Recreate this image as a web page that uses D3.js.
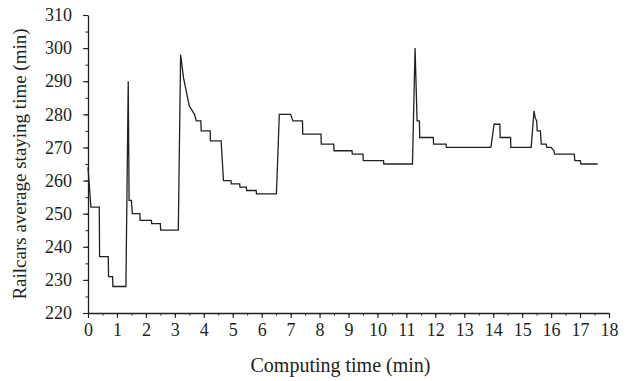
<!DOCTYPE html>
<html>
<head>
<meta charset="utf-8">
<script src="https://cdn.jsdelivr.net/npm/d3@7"></script>
<style>
  html, body { margin: 0; padding: 0; background: #fff; }
  svg { display: block; }
  .tick text { font-family: "Liberation Serif", "Times New Roman", serif; }
</style>
</head>
<body>
<svg id="chart" width="629" height="381"></svg>
<script>
// Computing time (min) of each vertex of the curve
const timeMin = [
  0, 0.05, 0.1, 0.39, 0.4, 0.7, 0.71, 0.85, 0.86, 1.31, 1.39, 1.42,
  1.5, 1.53, 1.79, 1.8, 2.19, 2.2, 2.5, 2.51, 3.12, 3.2,
  3.3, 3.5, 3.68, 3.74, 3.9, 3.91, 4.22, 4.23, 4.6, 4.68,
  4.94, 4.95, 5.24, 5.25, 5.47, 5.48, 5.81, 5.82, 6.51, 6.61,
  7.0, 7.08, 7.41, 7.42, 8.05, 8.06, 8.49, 8.5, 9.12, 9.13,
  9.5, 9.51, 10.21, 10.22, 11.21, 11.3, 11.37, 11.45, 11.46,
  11.93, 11.94, 12.37, 12.38, 13.92, 14.03, 14.23, 14.24, 14.6, 14.61,
  15.31, 15.41, 15.45, 15.5, 15.52, 15.63, 15.66, 15.83, 15.85, 16.0, 16.1, 16.12,
  16.8, 16.82, 17.01, 17.03, 17.61
];
// Railcars average staying time (min) at each vertex
const stayTime = [
  264, 258, 252, 252, 237, 237, 231, 231, 228, 228, 290, 254,
  254, 250, 250, 248, 248, 247, 247, 245, 245, 298,
  291, 282.5, 280, 278, 278, 275, 275, 272, 272, 260,
  260, 259, 259, 258, 258, 257, 257, 256, 256, 280,
  280, 278, 278, 274, 274, 271, 271, 269, 269, 268,
  268, 266, 266, 265, 265, 300, 278, 278, 273,
  273, 271, 271, 270, 270, 277, 277, 273, 273, 270,
  270, 281, 279, 278, 275, 275, 271, 271, 270, 270, 269, 268,
  268, 266, 266, 265, 265
];
const xTicks = d3.range(0, 19, 1);
const xMinorTicks = d3.range(0, 18.01, 0.5);
const yTicks = d3.range(220, 311, 10);
const yMinorTicks = d3.range(220, 311, 5);
const xTitle = "Computing time (min)";
const yTitle = "Railcars average staying time (min)";

const svg = d3.select("#chart");
const mLeft = 88, mRight = 609, mTop = 15, mBottom = 313;
const x = d3.scaleLinear().domain([0, 18]).range([mLeft, mRight]);
const y = d3.scaleLinear().domain([220, 310]).range([mBottom, mTop]);
const ink = "#231f20";

// minor ticks
svg.append("g").attr("transform", `translate(0,${mBottom})`)
  .call(d3.axisBottom(x).tickValues(xMinorTicks).tickSize(2.5).tickFormat(""))
  .call(g => g.select(".domain").remove())
  .call(g => g.selectAll("line").attr("stroke", ink).attr("stroke-width", 1));
svg.append("g").attr("transform", `translate(${mLeft},0)`)
  .call(d3.axisLeft(y).tickValues(yMinorTicks).tickSize(2.5).tickFormat(""))
  .call(g => g.select(".domain").remove())
  .call(g => g.selectAll("line").attr("stroke", ink).attr("stroke-width", 1));

// major axes
const xAxis = svg.append("g").attr("transform", `translate(0,${mBottom})`)
  .call(d3.axisBottom(x).tickValues(xTicks).tickSize(5).tickSizeOuter(0).tickPadding(5).tickFormat(d3.format("d")));
const yAxis = svg.append("g").attr("transform", `translate(${mLeft},0)`)
  .call(d3.axisLeft(y).tickValues(yTicks).tickSize(5).tickSizeOuter(0).tickPadding(11).tickFormat(d3.format("d")));
[xAxis, yAxis].forEach(g => {
  g.select(".domain").attr("stroke", ink).attr("stroke-width", 1.3);
  g.selectAll(".tick line").attr("stroke", ink).attr("stroke-width", 1.1);
  g.selectAll(".tick text").attr("fill", ink).style("font-size", "18px");
});

// line
const pts = timeMin.map((t, i) => [t, stayTime[i]]);
svg.append("path")
  .datum(pts)
  .attr("fill", "none")
  .attr("stroke", ink)
  .attr("stroke-width", 1.3)
  .attr("stroke-linejoin", "miter")
  .attr("d", d3.line().x(d => x(d[0])).y(d => y(d[1])));

// titles
svg.append("text")
  .attr("x", (mLeft + mRight) / 2 - 8)
  .attr("y", 372)
  .attr("text-anchor", "middle")
  .attr("fill", ink)
  .style("font-family", "'Liberation Serif', 'Times New Roman', serif")
  .style("font-size", "20px")
  .text(xTitle);
svg.append("text")
  .attr("transform", `translate(26,${(mTop + mBottom) / 2}) rotate(-90)`)
  .attr("text-anchor", "middle")
  .attr("fill", ink)
  .style("font-family", "'Liberation Serif', 'Times New Roman', serif")
  .style("font-size", "19px")
  .text(yTitle);
</script>
</body>
</html>
